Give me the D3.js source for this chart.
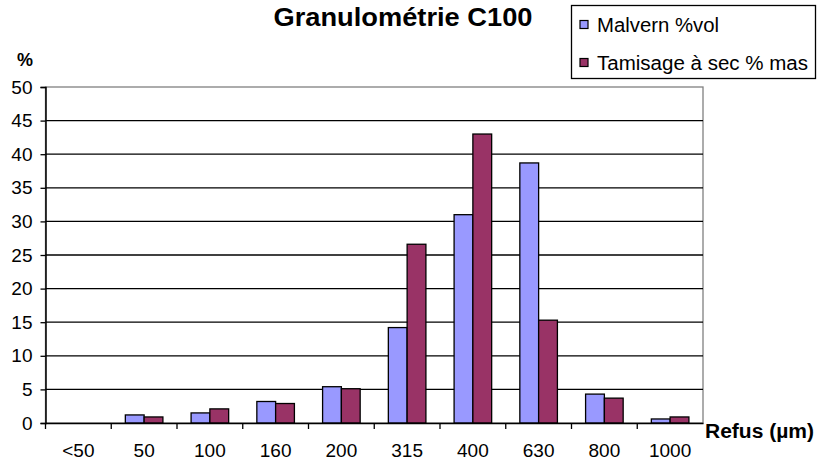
<!DOCTYPE html>
<html><head><meta charset="utf-8">
<script src="https://cdn.jsdelivr.net/npm/d3@7"></script>
<style>
body{margin:0;background:#fff;}
text{font-family:"Liberation Sans",Arial,sans-serif;}
</style></head>
<body><svg id="c" width="818" height="463"></svg>
<script>
const categories = ["<50","50","100","160","200","315","400","630","800","1000"];
const malvern = [0,1.2,1.5,3.2,5.4,14.2,31.0,38.7,4.3,0.6];
const tamisage = [0,0.9,2.1,2.9,5.1,26.6,43.0,15.3,3.7,0.9];
const yTicks = [0,5,10,15,20,25,30,35,40,45,50];
const seriesNames = ["Malvern %vol","Tamisage à sec % mas"];
const colors = ["#9999FF","#993366"];

const svg = d3.select("#c");
const L=45.5, R=703, T=87, B=423;
const x = d3.scaleBand().domain(categories).range([L,R]).paddingInner(0).paddingOuter(0);
const y = d3.scaleLinear().domain([0,50]).range([B,T]);
const xs = d3.scaleBand().domain([0,1]).range([0,x.bandwidth()]).paddingInner(0).paddingOuter(0.75);

// plot border (top/right gray)
svg.append("rect").attr("x",L).attr("y",T).attr("width",R-L).attr("height",B-T)
  .attr("fill","none").attr("stroke","#808080").attr("stroke-width",1.3);

// gridlines
svg.append("g").selectAll("line").data(yTicks.filter(d=>d>0&&d<50)).join("line")
  .attr("x1",L).attr("x2",R).attr("y1",d=>y(d)).attr("y2",d=>y(d))
  .attr("stroke","#000").attr("stroke-width",1.3);

// bars
const data = categories.map((c,i)=>({c,v:[malvern[i],tamisage[i]]}));
const g = svg.append("g");
data.forEach(d=>{
  d.v.forEach((v,k)=>{
    if(v<=0) return;
    g.append("rect").attr("x",x(d.c)+xs(k)).attr("width",xs.bandwidth())
      .attr("y",y(v)).attr("height",B-y(v))
      .attr("fill",colors[k]).attr("stroke","#000").attr("stroke-width",1.3);
  });
});

// y axis
const ya = d3.axisLeft(y).tickValues(yTicks).tickSize(5).tickPadding(8);
const yg = svg.append("g").attr("transform",`translate(${L},0)`).call(ya);
yg.select(".domain").attr("stroke","#000").attr("stroke-width",1.5);
yg.selectAll(".tick line").attr("stroke","#000").attr("stroke-width",1.3);
yg.selectAll(".tick text").attr("font-size",19).attr("font-family","Liberation Sans, Arial, sans-serif").attr("fill","#000");

// x axis
const xa = d3.axisBottom(x).tickSize(0).tickPadding(21);
const xg = svg.append("g").attr("transform",`translate(0,${B})`).call(xa);
xg.select(".domain").attr("stroke","#000").attr("stroke-width",1.5);
xg.selectAll(".tick text").attr("font-size",19).attr("font-family","Liberation Sans, Arial, sans-serif").attr("fill","#000");
// ticks between categories
xg.append("g").selectAll("line").data(categories).join("line")
  .attr("x1",d=>x(d)).attr("x2",d=>x(d)).attr("y1",0).attr("y2",6)
  .attr("stroke","#000").attr("stroke-width",1.3);

// title
svg.append("text").attr("x",403).attr("y",26).attr("text-anchor","middle")
  .attr("font-size",25).attr("font-weight","bold")
  .attr("textLength",259).attr("lengthAdjust","spacingAndGlyphs").text("Granulométrie C100");
// % label
svg.append("text").attr("x",25).attr("y",66).attr("text-anchor","middle")
  .attr("font-size",18).attr("font-weight","bold").text("%");
// x axis title
svg.append("text").attr("x",705).attr("y",438)
  .attr("font-size",20).attr("font-weight","bold")
  .attr("textLength",109).attr("lengthAdjust","spacingAndGlyphs").text("Refus (µm)");

// legend
const lg = svg.append("g");
lg.append("rect").attr("x",571.5).attr("y",5.5).attr("width",244).attr("height",73)
  .attr("fill","#fff").attr("stroke","#000").attr("stroke-width",1.3);
const legLen = [122,211];
seriesNames.forEach((n,k)=>{
  const cy = 24 + k*38;
  lg.append("rect").attr("x",580).attr("y",cy-3.5).attr("width",8).attr("height",8)
    .attr("fill",colors[k]).attr("stroke","#000").attr("stroke-width",1.2);
  lg.append("text").attr("x",597).attr("y",cy+7.5).attr("font-size",20)
    .attr("textLength",legLen[k]).attr("lengthAdjust","spacingAndGlyphs").text(n);
});
</script></body></html>
